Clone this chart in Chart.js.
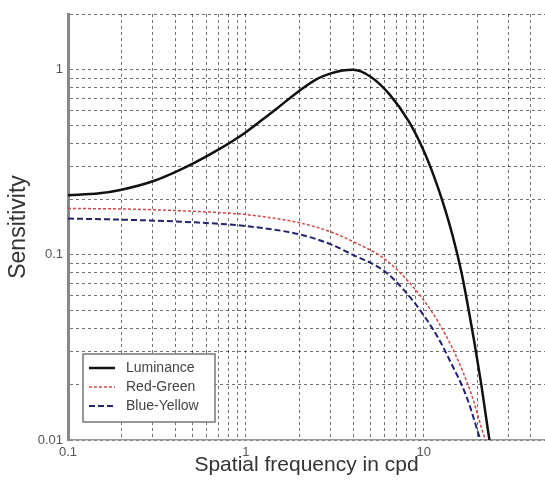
<!DOCTYPE html>
<html>
<head>
<meta charset="utf-8">
<title>Contrast sensitivity</title>
<script src="https://cdn.jsdelivr.net/npm/chart.js@4/dist/chart.umd.min.js"></script>
<style>
  html, body { margin: 0; padding: 0; background: #fff; }
  #wrap { width: 545px; height: 485px; }
</style>
</head>
<body>
<div id="wrap"><canvas id="graph" width="545" height="485"></canvas></div>
<script>
// frecuencias (cpd) y sensibilidad de cada canal
const lumFreq = [0.1, 0.15, 0.2, 0.3, 0.4, 0.5, 0.7, 1, 1.34, 1.5, 2, 2.5, 3, 3.5, 4, 5, 6.4, 8.3, 10, 11.3, 12.8, 14.6, 16.3, 18.1, 19.4, 21.1, 23, 23.4];
const lumSens = [0.21, 0.215, 0.225, 0.25, 0.28, 0.31, 0.37, 0.46, 0.57, 0.62, 0.77, 0.89, 0.955, 0.99, 1.0, 0.92, 0.738, 0.519, 0.364, 0.272, 0.192, 0.1245, 0.08, 0.047, 0.0322, 0.0196, 0.0111, 0.01];

const rgFreq = [0.1, 0.2, 0.5, 1, 2, 3, 4, 6, 8, 10, 12, 15, 18.5, 22, 22.3];
const rgSens = [0.178, 0.177, 0.172, 0.165, 0.149, 0.133, 0.118, 0.0953, 0.0736, 0.0569, 0.0437, 0.0292, 0.0177, 0.0103, 0.01];

const byFreq = [0.1, 0.2, 0.5, 1, 2, 3, 4, 6, 8, 10, 12, 14, 17.4, 20.6, 20.8];
const bySens = [0.157, 0.155, 0.15, 0.143, 0.129, 0.114, 0.1, 0.0818, 0.0622, 0.0471, 0.0358, 0.0269, 0.0171, 0.0103, 0.01];

// etiquetas que se muestran en los ejes
const xTickLabels = [0.1, 1, 10];
const yTickLabels = [0.01, 0.1, 1];

const FONT = '"Liberation Sans", Arial, sans-serif';

// arma los puntos {x, y} a partir de dos arrays
function toPoints(freqs, values) {
  return freqs.map((f, i) => ({ x: f, y: values[i] }));
}

// todas las lineas de la grilla: 1..9 x 10^k dentro del rango
function logGrid(min, max) {
  const ticks = [];
  for (let k = -3; k <= 3; k++) {
    for (let m = 1; m <= 9; m++) {
      const v = Number((m * Math.pow(10, k)).toPrecision(6));
      if (v >= min - 1e-9 && v <= max + 1e-9) ticks.push({ value: v });
    }
  }
  return ticks;
}

function labelFor(list) {
  return (value) => {
    const hit = list.find(v => Math.abs(v - value) / v < 1e-6);
    return hit === undefined ? '' : String(hit);
  };
}

// leyenda dentro del area del grafico, abajo a la izquierda
const legendBox = {
  id: 'legendBox',
  afterDatasetsDraw(chart) {
    const { ctx, chartArea } = chart;
    const x = chartArea.left + 15;
    const y = chartArea.bottom - 86;
    const w = 132, h = 68;
    ctx.save();
    ctx.fillStyle = '#fff';
    ctx.fillRect(x, y, w, h);
    ctx.strokeStyle = '#777';
    ctx.lineWidth = 1.5;
    ctx.strokeRect(x, y, w, h);
    chart.data.datasets.forEach((ds, i) => {
      const ly = y + 14 + i * 19;
      ctx.strokeStyle = ds.borderColor;
      ctx.lineWidth = ds.borderWidth;
      ctx.setLineDash(ds.borderDash || []);
      ctx.beginPath();
      ctx.moveTo(x + 6, ly);
      ctx.lineTo(x + 32, ly);
      ctx.stroke();
      ctx.setLineDash([]);
      ctx.fillStyle = '#444';
      ctx.font = '14px ' + FONT;
      ctx.textBaseline = 'middle';
      ctx.fillText(ds.label, x + 43, ly);
    });
    ctx.restore();
  }
};

const gridOpts = { color: 'rgba(0,0,0,0.55)', lineWidth: 1, drawTicks: false };
const tickFont = { family: FONT, size: 13 };

const config = {
  type: 'line',
  data: {
    datasets: [
      {
        label: 'Luminance',
        data: toPoints(lumFreq, lumSens),
        borderColor: '#111',
        borderWidth: 2.5,
        cubicInterpolationMode: 'monotone'
      },
      {
        label: 'Red-Green',
        data: toPoints(rgFreq, rgSens),
        borderColor: '#d04848',
        borderWidth: 1.5,
        borderDash: [3, 2],
        cubicInterpolationMode: 'monotone'
      },
      {
        label: 'Blue-Yellow',
        data: toPoints(byFreq, bySens),
        borderColor: '#22226e',
        borderWidth: 2,
        borderDash: [6, 3],
        cubicInterpolationMode: 'monotone'
      }
    ]
  },
  options: {
    responsive: false,
    animation: false,
    devicePixelRatio: 1,
    elements: { point: { radius: 0 } },
    layout: { padding: { top: 14, right: 0, left: 0, bottom: 0 } },
    plugins: {
      legend: { display: false },
      tooltip: { enabled: false }
    },
    scales: {
      x: {
        type: 'logarithmic',
        min: 0.1,
        max: 48,
        afterBuildTicks: (scale) => { scale.ticks = logGrid(0.1, 48); },
        afterFit: (scale) => { scale.height = 45; },
        grid: gridOpts,
        border: { color: '#999', width: 1.5, dash: [3, 3] },
        ticks: {
          autoSkip: false,
          maxRotation: 0,
          padding: 5,
          color: '#555',
          font: tickFont,
          callback: labelFor(xTickLabels)
        },
        title: {
          display: true,
          text: 'Spatial frequency in cpd',
          color: '#333',
          font: { family: FONT, size: 21 },
          padding: { top: 0, bottom: 7 }
        }
      },
      y: {
        type: 'logarithmic',
        min: 0.01,
        max: 2,
        afterBuildTicks: (scale) => { scale.ticks = logGrid(0.01, 2); },
        afterFit: (scale) => { scale.width = 68; },
        grid: gridOpts,
        border: { color: '#888', width: 3, dash: [3, 3] },
        ticks: {
          autoSkip: false,
          padding: 5,
          color: '#555',
          font: tickFont,
          callback: labelFor(yTickLabels)
        },
        title: {
          display: true,
          text: 'Sensitivity',
          color: '#333',
          font: { family: FONT, size: 23 },
          padding: { top: 5, bottom: 0 }
        }
      }
    }
  },
  plugins: [legendBox]
};

window.myChart = new Chart(document.getElementById('graph'), config);
</script>
</body>
</html>
